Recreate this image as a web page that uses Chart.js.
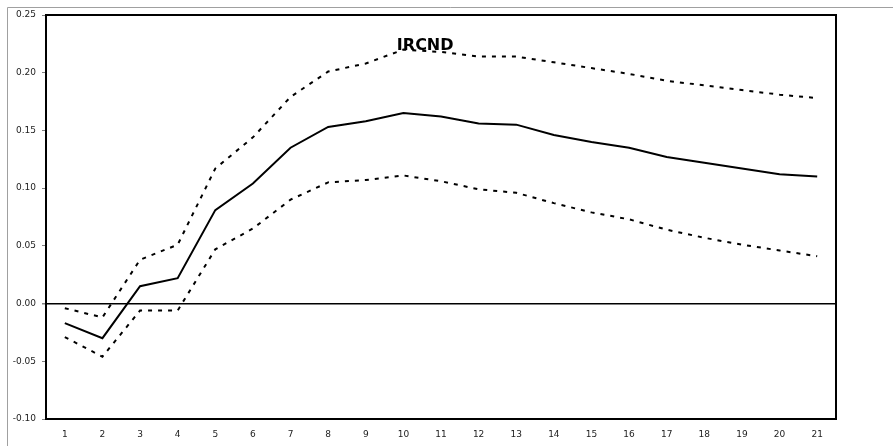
<!DOCTYPE html>
<html>
<head>
<meta charset="utf-8">
<script src="https://cdn.jsdelivr.net/npm/chart.js@4.4.1/dist/chart.umd.min.js"></script>
<style>
  html, body { margin: 0; padding: 0; background: #ffffff; }
  #wrap { position: relative; width: 893px; height: 446px; }
</style>
</head>
<body>
<div id="wrap"><canvas id="c" width="893" height="446"></canvas></div>
<script>
// Response periods
const periods = ['1','2','3','4','5','6','7','8','9','10','11','12','13','14','15','16','17','18','19','20','21'];

// Impulse response of IRCND
const response = [-0.017, -0.030, 0.015, 0.022, 0.081, 0.104, 0.135, 0.153, 0.158, 0.165, 0.162,
                  0.156, 0.155, 0.146, 0.140, 0.135, 0.127, 0.122, 0.117, 0.112, 0.110];

// Upper confidence band
const upperBand = [-0.004, -0.012, 0.038, 0.051, 0.117, 0.144, 0.179, 0.201, 0.208, 0.220, 0.218,
                   0.214, 0.214, 0.209, 0.204, 0.199, 0.193, 0.189, 0.185, 0.181, 0.178];

// Lower confidence band
const lowerBand = [-0.029, -0.046, -0.006, -0.006, 0.047, 0.065, 0.090, 0.105, 0.107, 0.111, 0.106,
                   0.099, 0.096, 0.087, 0.079, 0.073, 0.064, 0.057, 0.051, 0.046, 0.041];

const seriesName = 'IRCND';

// Page frame, plot frame and the series name drawn onto the plot
const framePlugin = {
  id: 'frame',
  beforeDraw(chart) {
    const ctx = chart.ctx;
    ctx.save();
    ctx.strokeStyle = '#a0a0a0';
    ctx.lineWidth = 1;
    ctx.beginPath();
    ctx.moveTo(7.5, 446);
    ctx.lineTo(7.5, 7.5);
    ctx.lineTo(893, 7.5);
    ctx.stroke();
    ctx.restore();
  },
  afterDatasetsDraw(chart) {
    const ctx = chart.ctx;
    const a = chart.chartArea;
    ctx.save();
    ctx.strokeStyle = '#000000';
    ctx.lineWidth = 2;
    ctx.strokeRect(a.left, a.top, a.right - a.left, a.bottom - a.top);
    ctx.fillStyle = '#000000';
    ctx.font = 'bold 16px "DejaVu Sans"';
    ctx.textAlign = 'center';
    ctx.textBaseline = 'middle';
    ctx.fillText(seriesName, a.left + (a.right - a.left) * 0.48, a.top + 31);
    ctx.restore();
  }
};

new Chart(document.getElementById('c'), {
  type: 'line',
  data: {
    labels: periods,
    datasets: [
      {
        label: seriesName,
        data: response,
        borderColor: '#000000',
        borderWidth: 2,
        pointRadius: 0,
        tension: 0,
        fill: false
      },
      {
        label: 'upper',
        data: upperBand,
        borderColor: '#000000',
        borderWidth: 2,
        borderDash: [4, 6],
        pointRadius: 0,
        tension: 0,
        fill: false
      },
      {
        label: 'lower',
        data: lowerBand,
        borderColor: '#000000',
        borderWidth: 2,
        borderDash: [4, 6],
        pointRadius: 0,
        tension: 0,
        fill: false
      }
    ]
  },
  options: {
    responsive: false,
    animation: false,
    layout: { padding: { top: 15, right: 57, left: 0, bottom: 0 } },
    plugins: {
      legend: { display: false },
      title: { display: false },
      tooltip: { enabled: false }
    },
    scales: {
      x: {
        type: 'category',
        offset: true,
        border: { display: false },
        grid: { display: false, drawTicks: false },
        ticks: {
          color: '#222222',
          font: { family: '"DejaVu Sans"', size: 9 },
          padding: 10,
          maxRotation: 0,
          autoSkip: false
        },
        afterFit(scale) { scale.height = 27; }
      },
      y: {
        min: -0.10,
        max: 0.25,
        border: { display: false },
        grid: {
          drawOnChartArea: true,
          drawTicks: true,
          tickLength: 4,
          tickColor: '#808080',
          color: (c) => (c.tick && Math.abs(c.tick.value) < 1e-9 ? '#000000' : 'rgba(0,0,0,0)'),
          lineWidth: (c) => (c.tick && Math.abs(c.tick.value) < 1e-9 ? 1.5 : 1)
        },
        ticks: {
          stepSize: 0.05,
          color: '#222222',
          font: { family: '"DejaVu Sans"', size: 9 },
          padding: 6,
          callback: (v) => (Math.abs(v) < 1e-9 ? 0 : Number(v)).toFixed(2)
        },
        afterFit(scale) { scale.width = 46; }
      }
    }
  },
  plugins: [framePlugin]
});
</script>
</body>
</html>
